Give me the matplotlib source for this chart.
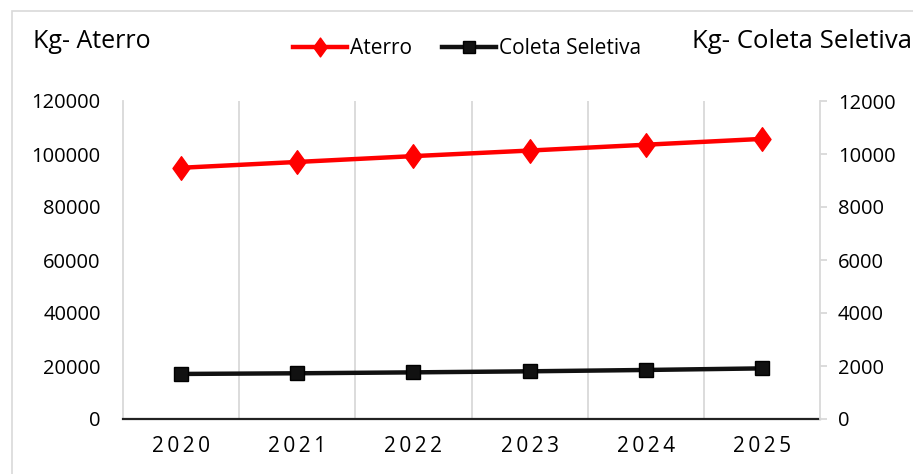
import matplotlib
matplotlib.use("Agg")
import matplotlib.pyplot as plt
from matplotlib.patches import Rectangle
from matplotlib.path import Path

plt.rcParams['font.family'] = ['Open Sans', 'DejaVu Sans']

# Data
years = ["2020", "2021", "2022", "2023", "2024", "2025"]
aterro = [94800, 97000, 99200, 101300, 103500, 105700]
coleta_seletiva = [1700, 1725, 1760, 1800, 1850, 1910]
left_ticks = [0, 20000, 40000, 60000, 80000, 100000, 120000]
right_ticks = [0, 2000, 4000, 6000, 8000, 10000, 12000]

# slightly tall diamond marker
tall_diamond = Path([(0, 1), (0.72, 0), (0, -1), (-0.72, 0), (0, 1)],
                    [Path.MOVETO, Path.LINETO, Path.LINETO, Path.LINETO,
                     Path.CLOSEPOLY])

W, H = 913, 474
fig = plt.figure(figsize=(W / 100, H / 100), dpi=100)
fig.patch.set_facecolor("white")

# outer chart frame
fig.add_artist(Rectangle((12 / W, -0.02), 1.0, 1 - 11 / H + 0.02,
                         transform=fig.transFigure, fill=False,
                         edgecolor="#d9d9d9", linewidth=1.2))

ax = fig.add_axes([123 / W, 1 - 419 / H, (820 - 123) / W, (419 - 101) / H])
x = list(range(len(years)))

grid_c = "#d9d9d9"
ax.set_xlim(-0.5, len(years) - 0.5)
ax.set_ylim(0, 120000)
ax.set_yticks(left_ticks)
ax.set_yticklabels([str(v) for v in left_ticks])
ax.set_xticks(x)
ax.set_xticklabels(["\u2009".join(y) for y in years])
ax.set_xticks([i + 0.5 for i in range(len(years) - 1)], minor=True)
ax.grid(True, which="minor", axis="x", color=grid_c, linewidth=1.3)
ax.tick_params(axis="x", which="both", length=0, pad=12, labelsize=15)
ax.tick_params(axis="y", length=0, pad=16, labelsize=14.5)
for s in ["top", "right"]:
    ax.spines[s].set_visible(False)
ax.spines["left"].set_color(grid_c)
ax.spines["left"].set_linewidth(1.3)
ax.spines["bottom"].set_color("#222222")
ax.spines["bottom"].set_linewidth(1.6)

l1, = ax.plot(x, aterro, color="#ff0000", linewidth=3.2, marker=tall_diamond,
              markersize=17, markeredgecolor="#ff0000", label="Aterro", zorder=3)

ax2 = ax.twinx()
ax2.set_ylim(0, 12000)
ax2.set_yticks(right_ticks)
ax2.set_yticklabels([str(v) for v in right_ticks])
for s in ["top", "left", "bottom"]:
    ax2.spines[s].set_visible(False)
ax2.spines["right"].set_color(grid_c)
ax2.spines["right"].set_linewidth(1.3)
ax2.tick_params(axis="y", length=5, width=1.3, color=grid_c, pad=8, labelsize=14.5)

l2, = ax2.plot(x, coleta_seletiva, color="#111111", linewidth=3.2, marker="s",
               markersize=10, markeredgecolor="#000000", label="Coleta Seletiva",
               zorder=3)

fig.text(33 / W, 1 - 42 / H, "Kg- Aterro", fontsize=18, ha="left", va="center")
fig.text(692 / W, 1 - 42 / H, "Kg- Coleta Seletiva", fontsize=18.5, ha="left",
         va="center")

fig.legend(handles=[l1, l2], loc="center", bbox_to_anchor=(467 / W, 1 - 49 / H),
           ncol=2, frameon=False, fontsize=15, handlelength=2.6,
           handletextpad=0.15, columnspacing=1.4, markerscale=0.8)

fig.savefig("out.png", dpi=100)
